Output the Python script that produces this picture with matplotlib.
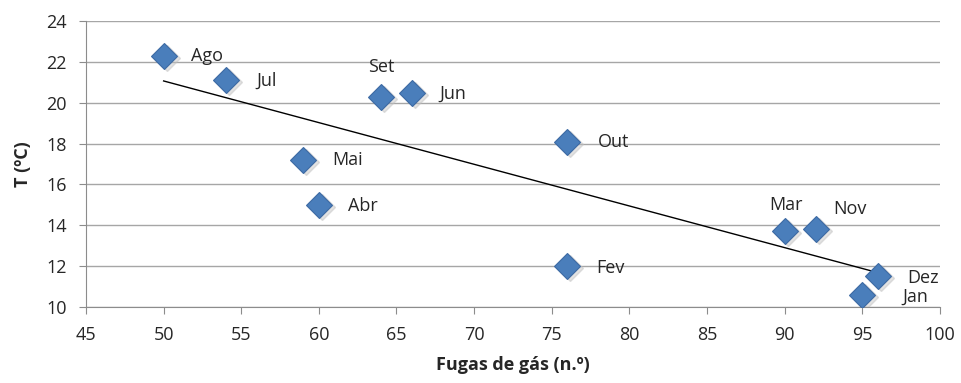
from matplotlib import pyplot as plt
import numpy as np

# monthly data: gas leaks vs temperature
months = ["Ago", "Jul", "Set", "Jun", "Out", "Mai", "Abr", "Fev", "Mar", "Nov", "Dez", "Jan"]
fugas = [50, 54, 64, 66, 76, 59, 60, 76, 90, 92, 96, 95]
temp = [22.3, 21.1, 20.3, 20.5, 18.1, 17.2, 15.0, 12.0, 13.7, 13.8, 11.5, 10.6]

# label offsets in points (dx, dy)
offsets = {"Ago": (20, 0), "Jul": (22, 0), "Set": (0, 21), "Jun": (20, -1), "Out": (22, 0),
           "Mai": (21, 0), "Abr": (21, -1), "Fev": (21, -1), "Mar": (1, 19), "Nov": (13, 15),
           "Dez": (21, -1.5), "Jan": (29, -1.5)}

plt.rcParams['font.family'] = ['Open Sans', 'DejaVu Sans']
fig = plt.figure(figsize=(9.61, 3.83), dpi=100)
ax = fig.add_axes([0.0895, 0.1984, 0.8885, 0.7466])

ax.set_xlim(45, 100)
ax.set_ylim(10, 24)
ax.set_xticks(np.arange(45, 101, 5))
ax.set_yticks(np.arange(10, 25, 2))
ax.yaxis.grid(True, color='#a6a6a6', linewidth=1)
ax.set_axisbelow(True)
for s in ['top', 'right']:
	ax.spines[s].set_visible(False)
for s in ['left', 'bottom']:
	ax.spines[s].set_color('#8c8c8c')
ax.tick_params(axis='both', direction='out', length=5, color='#8c8c8c', labelsize=13, labelcolor='#262626')
ax.tick_params(axis='y', pad=9)
ax.tick_params(axis='x', pad=9)

# trend line
k, b = np.polyfit(fugas, temp, 1)
xs = np.array([min(fugas), max(fugas)])
ax.plot(xs, k * xs + b, color='black', linewidth=1, zorder=2)

# markers with a soft shadow
ax.plot(np.array(fugas) + 0.2, np.array(temp) - 0.1, 'D', ms=13, color='#c0c0c0', alpha=0.45, zorder=2.5, linestyle='none')
ax.plot(fugas, temp, 'D', ms=13, color='#4a7ebb', markeredgecolor='#3d6aa3', markeredgewidth=0.8, zorder=3, linestyle='none')

for m, x, y in zip(months, fugas, temp):
	dx, dy = offsets[m]
	ax.annotate(m, (x, y), xytext=(dx, dy), textcoords='offset points', fontsize=13,
		color='#262626', va='center', ha='left' if dx > 5 else 'center', zorder=4)

ax.set_xlabel("Fugas de gás (n.º)", fontsize=13, fontweight='bold', color='#262626', labelpad=8)
ax.set_ylabel("T (ºC)", fontsize=13, fontweight='bold', color='#262626', labelpad=10)

fig.savefig("out.png", dpi=100)
